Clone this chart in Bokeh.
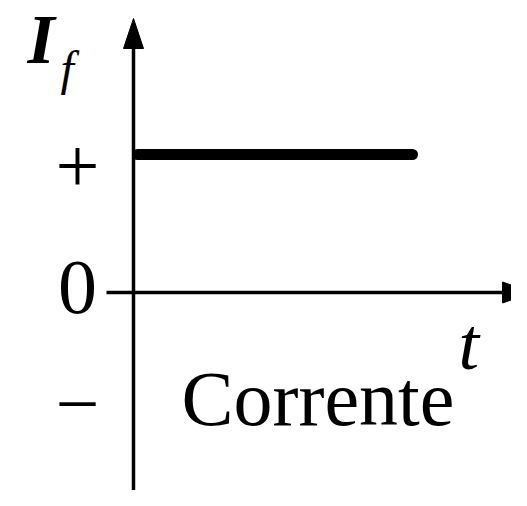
from bokeh.plotting import figure
from bokeh.models import Range1d, ColumnDataSource
from bokeh.core.properties import value
from bokeh.embed import file_html
from bokeh.resources import INLINE

# ---- data ----
t_values = [0.0, 1.0]          # time span of the constant current
if_values = [1.0, 1.0]         # I_f = + (constant positive)
tick_levels = ["+", "0", "\u2212"]
y_label = "I"
y_sub = "f"
x_label = "t"
caption = "Corrente"

# ---- layout (pixel geometry of the picture) ----
W, H = 511, 490
T0_X = 137               # picture x of t = 0
AX_X = 133               # picture x of vertical axis
AX_Y = 292               # picture y of horizontal axis (I = 0)
SX = 275.0               # px per unit t
SY = 138.0               # px per unit I
K = 0.32                 # baseline correction (fraction of font size)

def dx(px):
    return (px - T0_X) / SX

def dy(py):
    return (AX_Y - py) / SY

p = figure(width=W, height=H, output_backend="svg", toolbar_location=None,
           x_range=Range1d(dx(0), dx(W)), y_range=Range1d(dy(H), dy(0)),
           min_border=0, x_axis_location=None, y_axis_location=None)
p.grid.visible = False
p.outline_line_color = None
p.background_fill_color = "white"
p.border_fill_color = "white"

# vertical axis with arrow head
p.line([dx(AX_X), dx(AX_X)], [dy(H + 20), dy(46)], line_color="black", line_width=3.5)
p.patch([dx(AX_X - 10), dx(AX_X), dx(AX_X + 10)], [dy(48), dy(18), dy(48)],
        fill_color="black", line_color="black", line_width=1)

# horizontal axis with arrow head
p.line([dx(106), dx(505)], [0, 0], line_color="black", line_width=3.5)
p.patch([dx(502), dx(532), dx(502)], [dy(281.5), dy(AX_Y), dy(302.5)],
        fill_color="black", line_color="black", line_width=1)

# the signal
src = ColumnDataSource(dict(t=t_values, i=if_values))
p.line("t", "i", source=src, line_color="black", line_width=11, line_cap="round")

serif = value("Liberation Serif")

def txt(x, base, s, size, style="normal", align="left"):
    p.text(x=[dx(x)], y=[dy(base - K * size)], text=[s], text_font=serif,
           text_font_style=style, text_font_size=f"{size}px", text_align=align,
           text_baseline="alphabetic", text_color="black")

# tick level labels
for lab, base in zip(tick_levels, [191, 312, 429]):
    txt(77, base, lab, 78, align="center")

# axis labels
txt(27, 61, y_label, 70, style="bold italic")
txt(60, 83, y_sub, 48, style="italic")
txt(458, 367, x_label, 74, style="italic")
txt(181, 423, caption, 78)

open("out.html", "w").write(file_html(p, INLINE))
